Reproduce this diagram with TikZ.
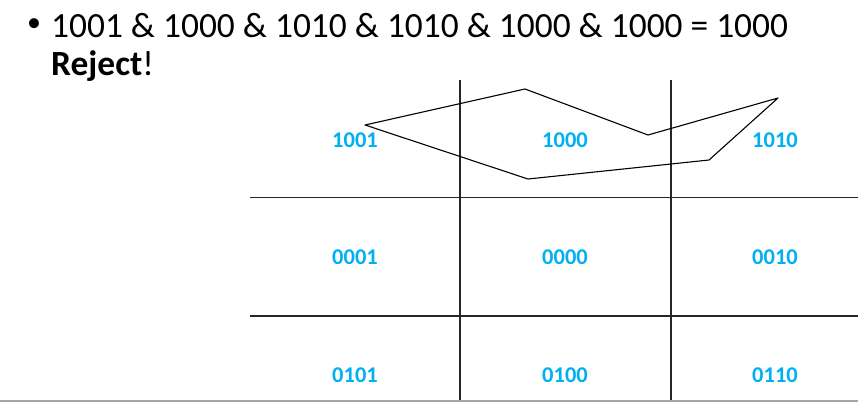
\documentclass[tikz,border=0pt]{standalone}
\usepackage{fontspec}
\setmainfont{Carlito}
\usetikzlibrary{positioning}

\definecolor{cellblue}{RGB}{0,176,240}

\begin{document}
\begin{tikzpicture}[x=1pt, y=-1pt]
        \tikzset{cell/.style={text=cellblue, font=\fontsize{22.5}{26}\selectfont\bfseries},
                 grid/.style={line width=1.2pt, black!85}}
        \useasboundingbox (0,0) rectangle (858,402);

        \node[anchor=base west, inner sep=0pt] (bul) at (27,31) {\fontsize{28}{32}\selectfont\textbullet};
        \node[anchor=base west, inner sep=0pt] (eqn) at (51,37) {\fontsize{35.4}{40}\selectfont 1001 \& 1000 \& 1010 \& 1010 \& 1000 \& 1000 = 1000};
        \node[anchor=base west, inner sep=0pt] (rej) at (51,75) {\fontsize{35.4}{40}\selectfont\textbf{Reject}!};

        % grid
        \draw[grid] (460,80) -- (460,402);
        \draw[grid] (671,80) -- (671,402);
        \draw[grid] (250,197.5) -- (858,197.5);
        \draw[grid] (250,316) -- (858,316);
        \draw[line width=1.5pt, black!35] (0,401) -- (858,401);

        \node[cell] (c1001) at (355,140) {1001};
        \node[cell] (c1000) at (565,140) {1000};
        \node[cell] (c1010) at (775,140) {1010};
        \node[cell] (c0001) at (355,257) {0001};
        \node[cell] (c0000) at (565,257) {0000};
        \node[cell] (c0010) at (775,257) {0010};
        \node[cell] (c0101) at (355,375) {0101};
        \node[cell] (c0100) at (565,375) {0100};
        \node[cell] (c0110) at (775,375) {0110};

        % shape
        \coordinate (p1) at (365,125);
        \coordinate (p2) at (525,89);
        \coordinate (p3) at (648,135);
        \coordinate (p4) at (778,98);
        \coordinate (p5) at (709,160);
        \coordinate (p6) at (528,179);
        \draw[line width=1.1pt, line join=round] (p1) -- (p2) -- (p3) -- (p4) -- (p5) -- (p6) -- cycle;
\end{tikzpicture}
\end{document}
